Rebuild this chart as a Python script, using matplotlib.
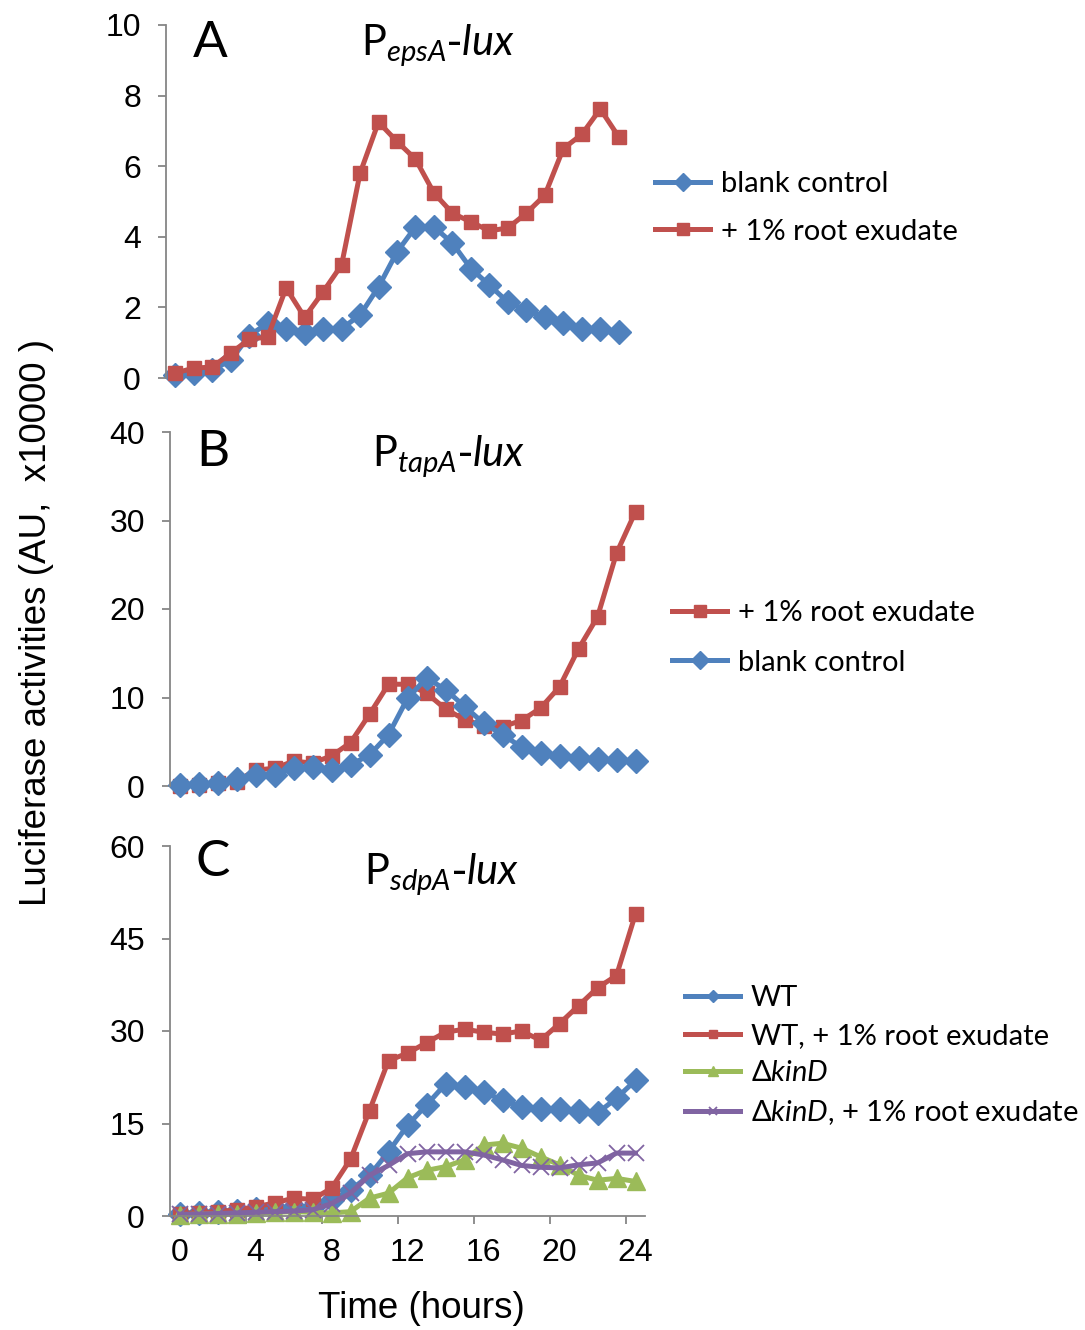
import matplotlib
matplotlib.use("Agg")
import matplotlib.pyplot as plt

# time points (hours) -- one reading per hour, Excel category axis
hours = list(range(25))

# Panel A: P_epsA-lux
epsA_blank = [0.08, 0.14, 0.23, 0.5, 1.2, 1.55, 1.4, 1.27, 1.38, 1.4, 1.78, 2.58, 3.57,
              4.28, 4.28, 3.82, 3.1, 2.63, 2.15, 1.92, 1.72, 1.56, 1.4, 1.4, 1.3]
epsA_root = [0.14, 0.28, 0.31, 0.7, 1.1, 1.16, 2.55, 1.72, 2.44, 3.2, 5.8, 7.25, 6.7,
             6.2, 5.24, 4.67, 4.42, 4.17, 4.25, 4.67, 5.18, 6.5, 6.9, 7.62, 6.83]

# Panel B: P_tapA-lux
tapA_blank = [0.1, 0.2, 0.35, 0.8, 1.25, 1.25, 2.0, 2.1, 1.8, 2.4, 3.5, 5.8, 9.9,
              12.2, 10.9, 9.0, 7.1, 5.8, 4.4, 3.7, 3.4, 3.2, 3.0, 2.9, 2.8]
tapA_root = [0.05, 0.15, 0.3, 0.5, 1.8, 2.0, 2.8, 2.6, 3.4, 4.9, 8.1, 11.5, 11.5,
             10.5, 8.7, 7.5, 6.8, 6.7, 7.4, 8.8, 11.2, 15.5, 19.1, 26.3, 31.0]

# Panel C: P_sdpA-lux
sdpA_wt = [0.3, 0.5, 0.6, 0.8, 1.2, 1.3, 1.5, 1.4, 2.6, 4.2, 6.6, 10.4, 14.7,
           18.0, 21.4, 21.0, 20.1, 18.8, 17.7, 17.3, 17.3, 17.0, 16.7, 19.1, 22.0]
sdpA_wt_root = [0.4, 0.5, 0.7, 1.0, 1.5, 2.1, 2.9, 2.7, 4.5, 9.2, 17.1, 25.2, 26.4,
                28.1, 29.8, 30.3, 29.8, 29.5, 30.0, 28.5, 31.2, 34.1, 37.0, 39.0, 49.0]
sdpA_kinD = [0.2, 0.3, 0.3, 0.4, 0.5, 0.6, 0.7, 0.6, 0.5, 0.7, 2.9, 3.7, 6.2,
             7.4, 8.0, 9.1, 11.5, 11.8, 11.0, 9.6, 8.3, 6.6, 5.8, 6.1, 5.6]
sdpA_kinD_root = [0.3, 0.3, 0.4, 0.5, 0.6, 0.7, 0.8, 1.0, 2.0, 3.7, 6.6, 8.2, 10.1,
                  10.4, 10.4, 10.4, 9.9, 9.1, 8.2, 7.9, 7.8, 8.3, 8.6, 10.2, 10.2]

BLUE = "#4F81BD"
RED = "#C0504D"
GREEN = "#9BBB59"
PURPLE = "#8064A2"
SPINE = "#868686"

TICK_FONT = "Liberation Sans"
TEXT_FONT = ["Lato", "DejaVu Sans"]

plt.rcParams["mathtext.fontset"] = "custom"
plt.rcParams["mathtext.rm"] = "Lato"
plt.rcParams["mathtext.it"] = "Lato:italic"

W, H = 1085, 1330
fig = plt.figure(figsize=(W / 100, H / 100), dpi=100)


def box(left, right, top, bottom):
    return [left / W, 1 - bottom / H, (right - left) / W, (bottom - top) / H]


def style_axes(ax, ymax, ystep, show_x):
    ax.set_xlim(-0.5, 24.5)
    ax.set_ylim(0, ymax)
    ax.set_yticks(range(0, ymax + 1, ystep))
    for s in ["top", "right"]:
        ax.spines[s].set_visible(False)
    ax.spines["left"].set_color(SPINE)
    ax.spines["left"].set_linewidth(1.3)
    ax.tick_params(axis="y", direction="out", length=6, width=1.3, color=SPINE,
                   pad=12, labelsize=23)
    for lab in ax.get_yticklabels():
        lab.set_fontfamily(TICK_FONT)
    if show_x:
        ax.spines["bottom"].set_color(SPINE)
        ax.spines["bottom"].set_linewidth(1.3)
        ax.set_xticks(range(0, 25, 4))
        ax.set_xticks([3.5, 7.5, 11.5, 15.5, 19.5, 23.5], minor=True)
        ax.tick_params(axis="x", which="major", length=0, pad=16, labelsize=23)
        ax.tick_params(axis="x", which="minor", direction="out", length=6,
                       width=1.3, color=SPINE)
        for lab in ax.get_xticklabels():
            lab.set_fontfamily(TICK_FONT)
    else:
        ax.spines["bottom"].set_visible(False)
        ax.set_xticks([])


line_kw = dict(linewidth=3.6, clip_on=False)
leg_kw = dict(loc="center left", bbox_transform=fig.transFigure, frameon=False,
              borderpad=0, borderaxespad=0, handlelength=1.9, handletextpad=0.35,
              prop={"family": TEXT_FONT, "size": 21})

# ---- Panel A
axA = fig.add_axes(box(166, 628, 25, 378))
axA.plot(hours, epsA_blank, color=BLUE, marker="D", markersize=12,
         label="blank control", **line_kw)
axA.plot(hours, epsA_root, color=RED, marker="s", markersize=10.5,
         label="+ 1% root exudate", **line_kw)
style_axes(axA, 10, 2, False)
axA.legend(bbox_to_anchor=(655 / W, 1 - 208 / H), labelspacing=0.72,
           markerscale=0.8, **leg_kw)

# ---- Panel B
axB = fig.add_axes(box(170, 645, 432, 786))
axB.plot(hours, tapA_root, color=RED, marker="s", markersize=10.5,
         label="+ 1% root exudate", **line_kw)
axB.plot(hours, tapA_blank, color=BLUE, marker="D", markersize=12,
         label="blank control", **line_kw)
style_axes(axB, 40, 10, False)
axB.legend(bbox_to_anchor=(672 / W, 1 - 638 / H), labelspacing=0.8,
           markerscale=0.8, **leg_kw)

# ---- Panel C
axC = fig.add_axes(box(170, 645, 846, 1216))
axC.plot(hours, sdpA_wt, color=BLUE, marker="D", markersize=12,
         label="WT", **line_kw)
axC.plot(hours, sdpA_wt_root, color=RED, marker="s", markersize=10.5,
         label="WT, + 1% root exudate", **line_kw)
axC.plot(hours, sdpA_kinD, color=GREEN, marker="^", markersize=13,
         label="Δ$kinD$", **line_kw)
axC.plot(hours, sdpA_kinD_root, color=PURPLE, marker="x", markersize=12,
         markeredgewidth=1.3, label="Δ$kinD$, + 1% root exudate", **line_kw)
style_axes(axC, 60, 15, True)
axC.legend(bbox_to_anchor=(685 / W, 1 - 1056 / H), labelspacing=0.4,
           markerscale=0.5, **leg_kw)

# panel letters and titles
for letter, x, y in [("A", 193, 57), ("B", 196, 466), ("C", 196, 876)]:
    fig.text(x / W, 1 - y / H, letter, fontsize=37, family=TEXT_FONT,
             ha="left", va="baseline")

for sub, x, y in [("epsA", 361, 55), ("tapA", 372, 466), ("sdpA", 364, 884)]:
    fig.text(x / W, 1 - y / H, r"$\mathrm{P}_{%s}$-$lux$" % sub, fontsize=30,
             ha="left", va="baseline")

fig.text(37 / W, 1 - 622 / H, "Luciferase activities (AU,  x10000 )",
         rotation=90, ha="center", va="center", fontsize=26.5, family=TICK_FONT)
fig.text(421 / W, 1 - 1308 / H, "Time (hours)", ha="center", va="center",
         fontsize=26.5, family=TICK_FONT)

fig.savefig("out.png", dpi=100)
